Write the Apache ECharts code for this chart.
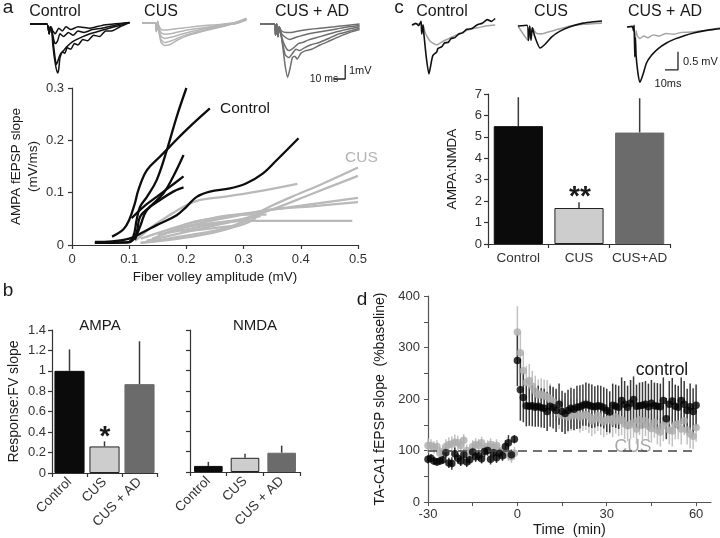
<!DOCTYPE html>
<html><head><meta charset="utf-8">
<script src="https://cdn.jsdelivr.net/npm/echarts@6/dist/echarts.min.js"></script>
<style>html,body{margin:0;padding:0;background:#fff}#c{width:720px;height:538px}</style>
</head><body><div id="c"></div>
<script>
// ---------- Panel a: example traces (ms, mV) ----------
const traceTitles = ['Control', 'CUS', 'CUS + AD'];
const ctlA1 = [[0,0],[14,0],[16,-0.7],[17,-0.2],[18,-0.3],[19,-1.5],[21,-2.8],[23,-3.5],[24,-3.2],[25,-2.4],[27,-2.0],[29,-2.1],[31,-1.7],[34,-1.8],[37,-1.4],[40,-1.5],[44,-1.1],[48,-1.2],[53,-0.8],[58,-0.9],[63,-0.5],[68,-0.5],[75,-0.2],[83,0.1]];
const ctlA2 = [[0,0],[14,0],[16,-0.7],[17,-0.2],[18,-0.3],[20,-1.8],[22,-2.9],[23,-2.7],[25,-2.2],[28,-1.9],[31,-1.6],[35,-1.3],[39,-1.1],[44,-0.9],[50,-0.7],[58,-0.5],[66,-0.3],[75,-0.1],[83,0.1]];
const ctlA3 = [[0,0],[14,0],[16,-0.7],[17,-0.2],[18,-0.4],[20,-1.2],[21,-1.4],[23,-1.2],[25,-0.7],[28,-0.9],[32,-0.6],[36,-0.8],[40,-0.5],[45,-0.6],[52,-0.4],[60,-0.3],[70,-0.1],[83,0.1]];
const ctlA4 = [[0,0],[14,0],[16,-0.7],[17,-0.2],[19,-0.5],[21,-0.7],[24,-0.3],[27,-0.5],[30,-0.2],[34,-0.4],[40,-0.2],[50,-0.3],[60,-0.1],[83,0.1]];
const cusA1 = [[0,0],[11,0],[12,-0.6],[13,0.1],[14,-0.2],[16,-0.45],[19,-0.5],[25,-0.45],[35,-0.35],[50,-0.2],[65,-0.1],[80,0.05],[87,0.2]];
const cusA2 = [[0,0],[11,0],[12,-0.6],[13,0.1],[14,-0.3],[16,-0.7],[19,-0.8],[25,-0.75],[35,-0.55],[50,-0.35],[65,-0.15],[80,0.05],[87,0.25]];
const cusA3 = [[0,0],[11,0],[12,-0.6],[13,0.1],[14,-0.4],[16,-0.95],[19,-1.1],[25,-1.0],[35,-0.75],[50,-0.45],[65,-0.2],[80,0.0],[87,0.3]];
const cusA4 = [[0,0],[11,0],[12,-0.6],[13,0.1],[14,-0.5],[16,-1.2],[19,-1.4],[25,-1.25],[35,-0.9],[50,-0.55],[65,-0.25],[80,0.0],[87,0.3]];
const cusA5 = [[0,0],[11,0],[12,-0.6],[13,0.1],[14,-0.6],[16,-1.4],[19,-1.6],[23,-1.55],[30,-1.2],[40,-0.85],[55,-0.5],[70,-0.2],[87,0.35]];
const cusadA1 = [[0,0],[12,0],[13,-0.8],[14,0],[15,-0.9],[16,-0.2],[18,-1.0],[21,-3.0],[23,-3.8],[25,-3.2],[27,-2.4],[29,-2.3],[31,-2.5],[34,-2.1],[38,-1.9],[43,-1.8],[50,-1.5],[58,-1.2],[66,-0.9],[75,-0.6],[83,-0.4]];
const cusadA2 = [[0,0],[12,0],[13,-0.8],[14,0],[15,-0.9],[16,-0.2],[18,-1.0],[21,-2.2],[24,-2.4],[27,-2.1],[30,-1.8],[33,-1.9],[37,-1.7],[42,-1.5],[50,-1.3],[58,-1.0],[66,-0.7],[75,-0.5],[83,-0.3]];
const cusadA3 = [[0,0],[12,0],[13,-0.8],[14,0],[15,-0.9],[16,-0.2],[18,-0.9],[21,-1.6],[24,-1.9],[28,-1.7],[32,-1.4],[36,-1.3],[40,-1.15],[46,-1.0],[54,-0.8],[62,-0.6],[72,-0.4],[83,-0.2]];
const cusadA4 = [[0,0],[12,0],[13,-0.8],[14,0],[15,-0.9],[16,-0.2],[18,-0.7],[22,-1.0],[25,-1.1],[30,-0.95],[36,-0.8],[44,-0.65],[54,-0.5],[64,-0.35],[74,-0.2],[83,-0.1]];
const cusadA5 = [[0,0],[12,0],[13,-0.8],[14,0],[15,-0.9],[16,-0.2],[18,-0.5],[22,-0.6],[26,-0.6],[32,-0.5],[40,-0.4],[50,-0.3],[62,-0.2],[72,-0.1],[83,0.0]];
const scaleBarA = [[61,-3.93],[71,-3.93],[71,-2.93]]; // 10 ms x 1 mV

// ---------- Panel a: input-output curves ----------
const xTicksA = [0, 0.1, 0.2, 0.3, 0.4, 0.5];
const ctlCurves = [
  [[0.04,0.004],[0.08,0.005],[0.096,0.005],[0.107,0.016],[0.113,0.048],[0.119,0.073],[0.131,0.092],[0.148,0.124],[0.166,0.182],[0.183,0.245],[0.2,0.3]],
  [[0.07,0.016],[0.09,0.03],[0.1,0.048],[0.11,0.08],[0.116,0.105],[0.131,0.143],[0.154,0.169],[0.171,0.188],[0.2,0.22],[0.241,0.261]],
  [[0.04,0.004],[0.1,0.005],[0.112,0.02],[0.119,0.054],[0.136,0.073],[0.16,0.099],[0.177,0.131],[0.195,0.172]],
  [[0.104,0.051],[0.125,0.073],[0.148,0.092],[0.171,0.111],[0.195,0.131]],
  [[0.11,0.01],[0.119,0.035],[0.131,0.067],[0.154,0.086],[0.177,0.102],[0.195,0.11]],
  [[0.04,0.006],[0.07,0.007],[0.1,0.012],[0.125,0.025],[0.148,0.038],[0.183,0.057],[0.2,0.073],[0.218,0.092],[0.241,0.102],[0.276,0.108],[0.305,0.118],[0.334,0.137],[0.355,0.159],[0.396,0.204]]
];
const cusCurves = [
  [[0.11,0.008],[0.119,0.016],[0.14,0.035],[0.166,0.054],[0.2,0.076],[0.224,0.086],[0.265,0.092],[0.323,0.102],[0.394,0.117]],
  [[0.12,0.004],[0.2,0.018],[0.26,0.03],[0.3,0.045],[0.34,0.07],[0.38,0.09],[0.44,0.118],[0.5,0.148]],
  [[0.13,0.008],[0.2,0.025],[0.26,0.04],[0.3,0.05],[0.35,0.068],[0.42,0.098],[0.5,0.132]],
  [[0.12,0.012],[0.17,0.03],[0.22,0.045],[0.27,0.055],[0.32,0.063],[0.4,0.075],[0.5,0.09]],
  [[0.14,0.012],[0.2,0.035],[0.25,0.048],[0.3,0.058],[0.35,0.068],[0.42,0.074],[0.5,0.082]],
  [[0.15,0.02],[0.2,0.03],[0.25,0.04],[0.3,0.046],[0.4,0.046],[0.49,0.046]],
  [[0.16,0.02],[0.2,0.04],[0.24,0.05],[0.29,0.058],[0.34,0.058]],
  [[0.18,0.03],[0.22,0.038],[0.27,0.045],[0.3,0.05],[0.33,0.055]],
  [[0.12,0.004],[0.17,0.01],[0.22,0.018],[0.27,0.03],[0.31,0.045],[0.33,0.06]],
  [[0.19,0.025],[0.23,0.03],[0.27,0.035],[0.3,0.04],[0.32,0.05]]
];

// ---------- Panel b ----------
const catsB = ['Control', 'CUS', 'CUS + AD'];
const ampaVals = [1.0, 0.26, 0.87];
const ampaErrTop = [1.21, 0.31, 1.29];
const nmdaVals = [0.06, 0.14, 0.19];
const nmdaErrTop = [0.10, 0.18, 0.26];

// ---------- Panel c ----------
const ctlC_black = [[0,0],[3,0.05],[5,-0.02],[7,0.1],[7.5,-0.25],[8.5,0],[9,-0.2],[11,-0.9],[13,-1.36],[14,-1.2],[16,-0.85],[19,-0.75],[20,-0.65],[23,-0.6],[25,-0.5],[28,-0.48],[30,-0.38],[33,-0.35],[36,-0.25],[39,-0.22],[42,-0.12],[46,-0.1],[50,0.0],[54,0.05],[58,0.15],[61,0.1],[64,0.18]];
const ctlC_gray = [[0,0],[7,0.05],[7.5,-0.2],[8.5,0],[10,-0.2],[14,-0.45],[19,-0.55],[24,-0.45],[30,-0.35],[36,-0.25],[42,-0.15],[50,-0.08],[58,-0.02],[64,0.0]];
const cusC_black = [[0,0],[7,0.02],[8,-0.4],[9,0],[10,-0.4],[11,-0.05],[13,-0.3],[17,-0.61],[21,-0.5],[26,-0.3],[32,-0.15],[40,-0.02],[50,0.08],[58,0.12],[64.6,0.14]];
const cusC_gray = [[0,0],[8,-0.4],[9,0],[10,-0.35],[11,-0.05],[14,-0.2],[18,-0.22],[24,-0.16],[30,-0.1],[40,0.0],[50,0.05],[64.6,0.08]];
const cusadC_black = [[0,0],[4,0.02],[5,-0.1],[5.5,0.05],[6,-0.83],[6.5,-0.3],[7,-0.8],[8.5,-1.3],[10,-1.53],[12,-1.35],[15,-1.0],[19,-0.78],[24,-0.6],[30,-0.45],[37,-0.33],[44,-0.24],[52,-0.16],[60,-0.1],[68,-0.06],[71.5,-0.05]];
const cusadC_gray = [[0,0],[5,0.0],[6,-0.5],[7,-0.1],[8,-0.25],[10,-0.32],[13,-0.25],[16,-0.3],[20,-0.22],[25,-0.25],[30,-0.18],[36,-0.2],[42,-0.15],[50,-0.14],[58,-0.1],[65,-0.08],[71.5,-0.02]];
const scaleBarC = [[29.2,-1.19],[39.2,-1.19],[39.2,-0.69]]; // 10 ms x 0.5 mV
const catsC = ['Control', 'CUS', 'CUS+AD'];
const ratioVals = [5.5, 1.68, 5.2];
const ratioErrTop = [6.85, 1.95, 6.8];

// ---------- Panel d ----------
const timeMin = [-30,-29,-28,-27,-26,-25,-24,-23,-22,-21,-20,-19,-18,-17,-16,-15,-14,-13,-12,-11,-10,-9,-8,-7,-6,-5,-4,-3,-2,-1,
  0,1,2,3,4,5,6,7,8,9,10,11,12,13,14,15,16,17,18,19,20,21,22,23,24,25,26,27,28,29,30,31,32,33,34,35,36,37,38,39,40,41,42,43,44,45,46,47,48,49,50,51,52,53,54,55,56,57,58,59,60];
const ctlLtp = [83,85,80,78,80,82,96,76,75,94,85,80,92,78,82,97,88,90,84,98,100,83,96,86,95,90,108,115,92,122,
  275,218,203,187,186,187,184,186,183,182,176,186,183,178,190,176,172,178,182,180,184,185,188,190,188,186,185,187,186,183,178,175,188,186,184,197,190,184,192,199,186,187,188,190,185,192,187,186,185,197,162,190,196,186,184,197,190,178,185,176,188];
const ctlLtpErr = [8,8,7,7,7,8,10,10,12,12,10,10,10,10,9,10,10,10,9,10,10,10,10,10,10,10,12,15,10,8,
  50,60,48,40,38,40,38,40,38,38,38,40,40,42,40,40,40,40,40,40,42,42,40,42,42,42,40,40,40,40,42,40,42,42,42,45,45,42,45,45,42,45,45,45,45,45,45,45,45,45,40,45,45,42,42,45,45,42,45,45,40];
const cusLtp = [110,110,106,108,95,98,108,112,113,116,115,110,120,100,95,108,112,110,115,103,108,112,106,110,100,98,96,92,88,95,
  330,290,255,232,236,225,215,208,210,206,205,200,195,185,172,168,176,165,170,168,172,165,168,170,166,158,162,168,160,156,160,162,156,165,158,160,152,148,150,155,142,160,150,158,148,143,155,140,136,148,155,140,138,150,152,142,158,140,132,128,145];
const cusLtpErr = [14,12,12,12,12,12,14,14,15,15,14,14,12,12,12,12,12,12,12,12,12,12,12,12,12,12,12,12,12,12,
  50,40,35,32,32,30,30,30,30,32,32,30,30,30,30,30,30,30,32,30,30,30,30,30,32,30,30,30,30,30,30,30,30,32,30,30,30,30,28,30,30,30,30,30,28,28,30,28,28,30,30,28,30,28,30,30,28,28,28,25,28];
const baselinePct = 100;

const FONT = 'Liberation Sans, Arial, sans-serif';
const TXT = '#1a1a1a';

const grids = [], xAxes = [], yAxes = [], series = [];
function addGrid(g, xa, ya) {
  const i = grids.length;
  grids.push(Object.assign({containLabel:false}, g));
  xAxes.push(Object.assign({gridIndex:i}, xa));
  yAxes.push(Object.assign({gridIndex:i}, ya));
  return i;
}
function hiddenAxis(min, max) { return {type:'value', min, max, show:false, splitLine:{show:false}}; }
function traceLine(gi, data, color, w) {
  series.push({type:'line', xAxisIndex:gi, yAxisIndex:gi, data, symbol:'none', smooth:0.2,
    lineStyle:{color, width:w || 1.6}, silent:true});
}
function plainLine(gi, data, color, w) {
  series.push({type:'line', xAxisIndex:gi, yAxisIndex:gi, data, symbol:'none', smooth:false,
    lineStyle:{color, width:w || 1.3}, silent:true});
}
const axLine = {show:true, onZero:false, lineStyle:{color:'#333', width:1.2}};
const axLineD = {show:true, onZero:false, lineStyle:{color:'#555', width:1.2}};
const axTick = {show:true, length:4, lineStyle:{color:'#333', width:1.2}};
const axLbl = (fs) => ({color:'#333', fontSize:fs || 13, fontFamily:FONT});

// trace grids panel a
const gA1 = addGrid({left:30, top:17, width:100, height:67.2}, hiddenAxis(0, 83.33), hiddenAxis(-4.3, 0.5));
const gA2 = addGrid({left:142, top:16, width:105, height:67.2}, hiddenAxis(0, 87.5), hiddenAxis(-4.3, 0.5));
const gA3 = addGrid({left:260, top:17, width:100, height:67.2}, hiddenAxis(0, 83.33), hiddenAxis(-4.3, 0.5));
[ctlA4, ctlA3, ctlA2, ctlA1].forEach(d => traceLine(gA1, d, '#111', 1.5));
[cusA1, cusA2, cusA3, cusA4, cusA5].forEach(d => traceLine(gA2, d, '#b5b5b5', 1.5));
[cusadA5, cusadA4, cusadA3, cusadA2, cusadA1].forEach(d => traceLine(gA3, d, '#6e6e6e', 1.5));
plainLine(gA3, scaleBarA, '#222', 1.3);

// panel a main
const gA = addGrid({left:72, top:88, width:286, height:157},
  {type:'value', min:0, max:0.5, interval:0.1, axisLine:axLine, axisTick:axTick, splitLine:{show:false},
   axisLabel:Object.assign(axLbl(13), {margin:8}),
   name:'Fiber volley amplitude (mV)', nameLocation:'middle', nameGap:25,
   nameTextStyle:{fontSize:13.5, color:TXT, fontFamily:FONT}},
  {type:'value', min:0, max:0.3, interval:0.1, axisLine:axLine, axisTick:axTick, splitLine:{show:false},
   axisLabel:Object.assign(axLbl(13), {margin:8}),
   name:'AMPA fEPSP slope\n(mV/ms)', nameLocation:'middle', nameRotate:90, nameGap:28,
   nameTextStyle:{fontSize:13.5, color:TXT, fontFamily:FONT, lineHeight:17}});
cusCurves.forEach(d => series.push({type:'line', xAxisIndex:gA, yAxisIndex:gA, data:d, symbol:'none', smooth:0.4, lineStyle:{color:'#b9b9b9', width:2.3}}));
ctlCurves.forEach(d => series.push({type:'line', xAxisIndex:gA, yAxisIndex:gA, data:d, symbol:'none', smooth:0.4, lineStyle:{color:'#0d0d0d', width:2.3}}));

// bar helpers
const barFill = ['#0b0b0b', '#cdcdcd', '#6b6b6b'];
const barBorder = ['#0b0b0b', '#222', '#6b6b6b'];
function bars(gi, vals, width) {
  series.push({type:'bar', xAxisIndex:gi, yAxisIndex:gi, barWidth:width,
    data: vals.map((v, i) => ({value:v, itemStyle:{color:barFill[i], borderColor:barBorder[i], borderWidth:1}}))});
}
function barErr(gi, vals, tops) {
  series.push({type:'custom', xAxisIndex:gi, yAxisIndex:gi, z:1,
    renderItem:(p, api) => {
      const a = api.coord([api.value(0), api.value(1)]);
      const b = api.coord([api.value(0), api.value(2)]);
      return {type:'line', shape:{x1:a[0], y1:a[1], x2:b[0], y2:b[1]}, style:{stroke:'#3a3a3a', lineWidth:1.5}};
    },
    data: vals.map((v, i) => [i, v, tops[i]])});
}
const catAxis = (cats, rot, fs) => ({type:'category', data:cats, axisLine:axLine,
  axisTick:{show:true, length:4, lineStyle:{color:'#333', width:1.2}},
  axisLabel:Object.assign(axLbl(fs), {rotate:rot, margin:7, interval:0}), splitLine:{show:false}});

// panel b
const gB1 = addGrid({left:52, top:330, width:105, height:143}, catAxis(catsB, 45, 13.5),
  {type:'value', min:0, max:1.4, interval:0.2, axisLine:axLine, axisTick:axTick, splitLine:{show:false},
   axisLabel:Object.assign(axLbl(13), {margin:6}),
   name:'Response:FV slope', nameLocation:'middle', nameRotate:90, nameGap:31,
   nameTextStyle:{fontSize:14, color:TXT, fontFamily:FONT}});
barErr(gB1, ampaVals, ampaErrTop);
bars(gB1, ampaVals, '86%');
const gB2 = addGrid({left:190, top:330, width:110, height:142}, catAxis(catsB, 45, 13.5),
  {type:'value', min:0, max:1.4, interval:0.2, axisLine:axLine, axisTick:axTick, splitLine:{show:false},
   axisLabel:{show:false}});
barErr(gB2, nmdaVals, nmdaErrTop);
bars(gB2, nmdaVals, '78%');

// panel c traces
const gC1 = addGrid({left:412, top:14.2, width:83, height:72}, hiddenAxis(0, 63.85), hiddenAxis(-1.7, 0.3));
const gC2 = addGrid({left:518, top:15.2, width:84, height:72}, hiddenAxis(0, 64.6), hiddenAxis(-1.7, 0.3));
const gC3 = addGrid({left:627, top:16.2, width:93, height:72}, hiddenAxis(0, 71.5), hiddenAxis(-1.7, 0.3));
traceLine(gC1, ctlC_gray, '#a3a3a3', 1.6); traceLine(gC1, ctlC_black, '#111', 1.6);
traceLine(gC2, cusC_gray, '#a3a3a3', 1.6); traceLine(gC2, cusC_black, '#111', 1.6);
traceLine(gC3, cusadC_gray, '#a3a3a3', 1.4); traceLine(gC3, cusadC_black, '#111', 1.6);
plainLine(gC3, scaleBarC, '#222', 1.3);

// panel c bars
const gC = addGrid({left:488, top:94, width:182, height:150}, catAxis(catsC, 0, 13.5),
  {type:'value', min:0, max:7, interval:1, axisLine:axLine, axisTick:axTick, splitLine:{show:false},
   axisLabel:Object.assign(axLbl(13), {margin:6}),
   name:'AMPA:NMDA', nameLocation:'middle', nameRotate:90, nameGap:29,
   nameTextStyle:{fontSize:13.5, color:TXT, fontFamily:FONT}});
barErr(gC, ratioVals, ratioErrTop);
bars(gC, ratioVals, '81%');

// panel d
const gD = addGrid({left:428, top:296, width:283, height:211},
  {type:'value', min:-30, max:65, interval:15, axisLine:axLineD,
   axisTick:{show:true, length:4, lineStyle:{color:'#555'}, customValues:[-30,-15,0,15,30,45,60]},
   axisLabel:Object.assign(axLbl(13), {margin:6, customValues:[-30,0,30,60]}), splitLine:{show:false},
   name:'Time  (min)', nameLocation:'middle', nameGap:17,
   nameTextStyle:{fontSize:14.5, color:TXT, fontFamily:FONT}},
  {type:'value', min:0, max:400, interval:50, axisLine:axLineD,
   axisTick:{show:true, length:4, lineStyle:{color:'#555'}},
   axisLabel:Object.assign(axLbl(13), {margin:8, formatter:v => (v % 100 === 0 ? String(v) : '')}), splitLine:{show:false},
   name:'TA-CA1 fEPSP slope  (%baseline)', nameLocation:'middle', nameRotate:90, nameGap:41,
   nameTextStyle:{fontSize:14, color:TXT, fontFamily:FONT}});
function ltpErr(gi, vals, errs, color) {
  series.push({type:'custom', xAxisIndex:gi, yAxisIndex:gi,
    renderItem:(p, api) => {
      const a = api.coord([api.value(0), api.value(1) - api.value(2)]);
      const b = api.coord([api.value(0), api.value(1) + api.value(2)]);
      return {type:'line', shape:{x1:a[0], y1:a[1], x2:b[0], y2:b[1]}, style:{stroke:color, lineWidth:1.5}};
    },
    data: timeMin.map((t, i) => [t, vals[i], errs[i]])});
}
series.push({type:'line', xAxisIndex:gD, yAxisIndex:gD, data:[], symbol:'none',
  markLine:{silent:true, symbol:['none','none'], label:{show:false},
    lineStyle:{color:'#444', width:1.5, type:[9,6]},
    data:[[{coord:[timeMin[0], baselinePct]}, {coord:[timeMin[timeMin.length-1], baselinePct]}]]}});
ltpErr(gD, cusLtp, cusLtpErr, '#c2c2c2');
series.push({type:'scatter', xAxisIndex:gD, yAxisIndex:gD, symbolSize:7.5, itemStyle:{color:'#adadad'},
  data: timeMin.map((t, i) => [t, cusLtp[i]])});
ltpErr(gD, ctlLtp, ctlLtpErr, '#3a3a3a');
series.push({type:'scatter', xAxisIndex:gD, yAxisIndex:gD, symbolSize:7.5, itemStyle:{color:'#050505'},
  data: timeMin.map((t, i) => [t, ctlLtp[i]])});

// annotation texts
function txt(x, y, s, fs, opts) {
  return Object.assign({type:'text', x, y, silent:true,
    style:Object.assign({text:s, fontSize:fs, fontFamily:FONT, fill:TXT, align:'center', verticalAlign:'middle'}, (opts||{}).style || {})});
}
const graphics = [
  txt(8, 8, 'a', 19),
  txt(55, 12, traceTitles[0], 16),
  txt(161, 12, traceTitles[1], 16),
  txt(312, 12, traceTitles[2], 16),
  txt(349, 71, '1mV', 11, {style:{align:'left'}}),
  txt(324, 79, '10 ms', 10.5),
  txt(220, 109, 'Control', 15.5, {style:{align:'left'}}),
  txt(345, 158, 'CUS', 15.5, {style:{align:'left', fill:'#b3b3b3'}}),
  txt(8, 291, 'b', 19),
  txt(100, 326, 'AMPA', 15),
  txt(255, 326, 'NMDA', 15),
  txt(105, 437, '*', 28, {style:{fontWeight:'bold'}}),
  txt(399, 8, 'c', 19),
  txt(442, 12, traceTitles[0], 16),
  txt(551, 12, traceTitles[1], 16),
  txt(665, 12, traceTitles[2], 16),
  txt(683, 62, '0.5 mV', 11, {style:{align:'left'}}),
  txt(668, 84, '10ms', 11),
  txt(580, 197, '**', 28, {style:{fontWeight:'bold'}}),
  txt(362, 300, 'd', 19),
  txt(662, 370, 'control', 17.5),
  txt(633, 447, 'CUS', 17.5, {style:{fill:'#a8a8a8'}})
];

const chart = echarts.init(document.getElementById('c'), null, {renderer:'canvas'});
chart.setOption({
  animation:false,
  backgroundColor:'#fff',
  textStyle:{fontFamily:FONT},
  grid:grids, xAxis:xAxes, yAxis:yAxes, series, graphic:graphics
});
</script></body></html>
